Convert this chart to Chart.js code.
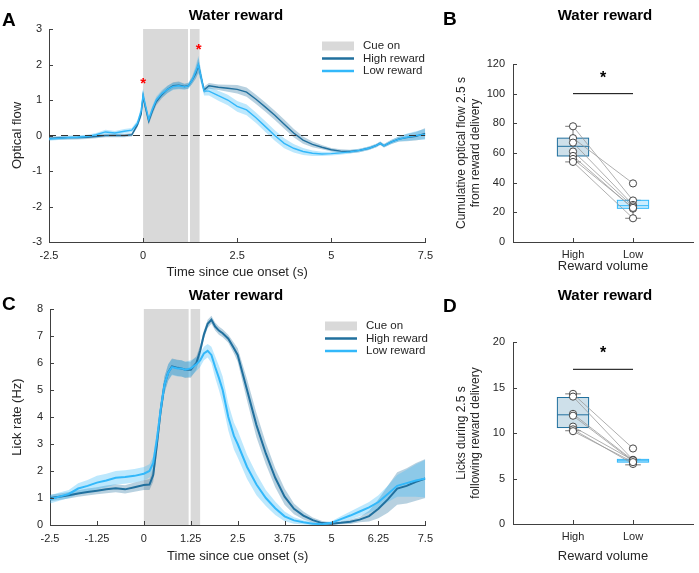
<!DOCTYPE html>
<html>
<head>
<meta charset="utf-8">
<script src="https://cdn.jsdelivr.net/npm/chart.js@4.4.1/dist/chart.umd.min.js"></script>
<style>
  html, body { margin: 0; padding: 0; background: #fff; }
  #wrap { position: relative; width: 699px; height: 573px; overflow: hidden; }
  canvas { position: absolute; }
</style>
</head>
<body>
<div id="wrap">
  <canvas id="chartA" width="440" height="280" style="left:0;top:0"></canvas>
  <canvas id="chartB" width="259" height="280" style="left:440px;top:0"></canvas>
  <canvas id="chartC" width="440" height="293" style="left:0;top:280px"></canvas>
  <canvas id="chartD" width="259" height="293" style="left:440px;top:280px"></canvas>
</div>
<script>
// ---- panel A: optical flow traces (s since cue onset) ----
const timeA = [-2.5, -2.25, -2.0, -1.75, -1.5, -1.25, -1.0, -0.75, -0.5,
  -0.3, -0.15, -0.05, 0.0, 0.05, 0.15, 0.25, 0.35,
  0.5, 0.65, 0.8, 0.95, 1.1, 1.2, 1.3, 1.4, 1.47,
  1.55, 1.62, 1.75, 2.0, 2.25, 2.5, 2.75, 3.0, 3.25, 3.5,
  3.75, 4.0, 4.25, 4.5, 4.75, 5.0, 5.25, 5.5, 5.75, 6.0,
  6.2, 6.3, 6.4, 6.6, 6.8, 7.0, 7.25, 7.5];
const highFlow = [-0.08, -0.07, -0.06, -0.06, -0.05, -0.03, 0.0, 0.0, 0.0,
  0.02, 0.3, 0.6, 1.1, 0.85, 0.4, 0.7, 0.95,
  1.15, 1.3, 1.4, 1.42, 1.38, 1.4, 1.55, 1.75, 1.98,
  1.6, 1.28, 1.4, 1.36, 1.33, 1.3, 1.22, 1.02, 0.8, 0.57,
  0.32, 0.07, -0.13, -0.25, -0.33, -0.4, -0.44, -0.45, -0.42, -0.36,
  -0.28, -0.22, -0.29, -0.18, -0.1, -0.06, -0.02, 0.06];
const highFlowErr = [0.05, 0.05, 0.05, 0.05, 0.05, 0.05, 0.05, 0.05, 0.05,
  0.05, 0.07, 0.1, 0.15, 0.12, 0.1, 0.1, 0.1,
  0.1, 0.1, 0.1, 0.1, 0.08, 0.08, 0.1, 0.15, 0.2,
  0.15, 0.1, 0.08, 0.08, 0.1, 0.12, 0.13, 0.13, 0.13, 0.13,
  0.13, 0.12, 0.1, 0.08, 0.06, 0.05, 0.05, 0.05, 0.05, 0.05,
  0.05, 0.05, 0.05, 0.06, 0.07, 0.1, 0.12, 0.15];
const lowFlow = [-0.1, -0.08, -0.06, -0.05, -0.03, 0.02, 0.1, 0.07, 0.12,
  0.15, 0.35, 0.7, 1.15, 0.9, 0.45, 0.75, 1.0,
  1.18, 1.3, 1.38, 1.4, 1.37, 1.4, 1.55, 1.8, 2.0,
  1.6, 1.25, 1.25, 1.12, 1.0, 0.82, 0.72, 0.5, 0.25, 0.0,
  -0.22, -0.36, -0.45, -0.5, -0.52, -0.51, -0.49, -0.46, -0.42, -0.36,
  -0.28, -0.22, -0.29, -0.18, -0.1, -0.05, 0.0, 0.03];
const lowFlowErr = [0.05, 0.05, 0.05, 0.05, 0.05, 0.05, 0.06, 0.06, 0.06,
  0.06, 0.08, 0.12, 0.18, 0.12, 0.1, 0.1, 0.1,
  0.1, 0.1, 0.1, 0.1, 0.08, 0.08, 0.1, 0.18, 0.25,
  0.18, 0.12, 0.12, 0.14, 0.15, 0.15, 0.15, 0.15, 0.15, 0.15,
  0.14, 0.12, 0.1, 0.08, 0.06, 0.05, 0.05, 0.05, 0.05, 0.05,
  0.05, 0.05, 0.05, 0.06, 0.07, 0.1, 0.12, 0.15];
const starTime = [0, 1.48];
const starValue = [1.55, 2.5];

// ---- panel C: lick rate traces ----
const timeC = [-2.5, -2.25, -2.0, -1.75, -1.5, -1.25, -1.0, -0.75, -0.5, -0.25,
  0.0, 0.15, 0.25, 0.35, 0.45, 0.55, 0.65, 0.75, 0.9, 1.0,
  1.1, 1.25, 1.4, 1.5, 1.6, 1.7, 1.8, 1.9, 2.0, 2.1,
  2.25, 2.4, 2.5, 2.75, 3.0, 3.25, 3.5, 3.75, 4.0, 4.25,
  4.5, 4.75, 5.0, 5.25, 5.5, 5.75, 6.0, 6.25, 6.5, 6.75,
  7.0, 7.25, 7.5];
const highLick = [1.0, 1.05, 1.1, 1.17, 1.22, 1.27, 1.32, 1.36, 1.32, 1.4,
  1.48, 1.5, 1.85, 3.0, 4.25, 5.2, 5.65, 5.87, 5.82, 5.8,
  5.75, 5.75, 6.0, 6.45, 7.05, 7.45, 7.6, 7.35, 7.2, 7.1,
  6.9, 6.55, 6.3, 5.0, 3.7, 2.65, 1.75, 1.05, 0.6, 0.35,
  0.18, 0.07, 0.05, 0.08, 0.12, 0.2, 0.33, 0.6, 0.95, 1.35,
  1.45, 1.6, 1.72];
const highLickErr = [0.12, 0.12, 0.12, 0.12, 0.13, 0.13, 0.14, 0.15, 0.15, 0.17,
  0.18, 0.2, 0.25, 0.3, 0.3, 0.3, 0.3, 0.3, 0.3, 0.3,
  0.3, 0.3, 0.25, 0.2, 0.15, 0.15, 0.15, 0.15, 0.15, 0.15,
  0.15, 0.2, 0.25, 0.4, 0.45, 0.4, 0.35, 0.3, 0.2, 0.15,
  0.1, 0.08, 0.05, 0.05, 0.08, 0.1, 0.2, 0.35, 0.5, 0.6,
  0.65, 0.7, 0.72];
const lowLick = [0.95, 1.05, 1.15, 1.35, 1.45, 1.57, 1.65, 1.75, 1.78, 1.82,
  1.9, 2.0, 2.3, 3.2, 4.3, 5.2, 5.65, 5.85, 5.8, 5.8,
  5.75, 5.8, 5.95, 6.1, 6.35, 6.45, 6.3, 5.85, 5.45, 5.0,
  4.0, 3.3, 3.0, 2.15, 1.5, 1.0, 0.62, 0.32, 0.17, 0.1,
  0.05, 0.03, 0.08, 0.22, 0.35, 0.5, 0.65, 0.85, 1.15, 1.45,
  1.55, 1.65, 1.72];
const lowLickErr = [0.15, 0.15, 0.15, 0.2, 0.22, 0.25, 0.25, 0.25, 0.25, 0.25,
  0.25, 0.25, 0.25, 0.3, 0.3, 0.3, 0.3, 0.3, 0.3, 0.3,
  0.3, 0.3, 0.25, 0.25, 0.25, 0.25, 0.3, 0.4, 0.45, 0.5,
  0.5, 0.5, 0.5, 0.45, 0.4, 0.3, 0.25, 0.18, 0.12, 0.08,
  0.06, 0.05, 0.06, 0.1, 0.15, 0.18, 0.2, 0.25, 0.3, 0.4,
  0.5, 0.6, 0.7];

// cue period: on from 0 to 1.5 s, with a short break near 1.22 s
const cueStart = 0, cueEnd = 1.5, cueGap = 1.22;
const legendLabels = ['Cue on', 'High reward', 'Low reward'];

// ---- panel B: cumulative optical flow per mouse ----
const groupLabels = ['High', 'Low'];
const flowHigh = [78, 70, 67, 61, 58, 56, 54];
const flowLow = [28, 39.5, 25, 24, 22.5, 23, 16];
const flowBoxHigh = [58, 64.5, 70];   // q1, median, q3
const flowWhiskHigh = [54, 78];
const flowBoxLow = [22.7, 24.5, 28.1];
const flowWhiskLow = [16, 28.1];
const flowSig = [100, 112];           // bar, star

// ---- panel D: licks per mouse ----
const lickHigh = [14.3, 14.0, 12.1, 11.9, 10.7, 10.4, 10.2];
const lickLow = [8.3, 7.05, 7.0, 6.9, 7.0, 6.6, 6.8];
const lickBoxHigh = [10.6, 12.0, 13.9];
const lickWhiskHigh = [10.25, 14.3];
const lickBoxLow = [6.8, 6.95, 7.1];
const lickWhiskLow = [6.5, 7.1];
const lickSig = [17, 19.1];

const FONT = "'Liberation Sans', Arial, Helvetica, sans-serif";
const axisColor = '#404040';
const highColor = 'rgb(33,112,158)';
const lowColor = 'rgb(51,184,250)';
const highBand = 'rgba(33,112,158,0.32)';
const lowBand = 'rgba(51,184,250,0.32)';
const cueGray = '#d9d9d9';

Chart.defaults.font.family = FONT;
Chart.defaults.font.size = 11;
Chart.defaults.color = '#262626';
Chart.defaults.animation = false;

const panelText = {
    id: 'panelText',
    afterDraw: function (chart, args, o) {
        const ctx = chart.ctx;
        ctx.save();
        ctx.fillStyle = '#000';
        ctx.textBaseline = 'middle';
        ctx.textAlign = 'center';
        ctx.font = 'bold 15px ' + FONT;
        ctx.fillText('Water reward', o.titleX, o.titleY);
        ctx.textAlign = 'left';
        ctx.font = 'bold 19px ' + FONT;
        ctx.fillText(o.letter, o.letterX, o.letterY);
        ctx.restore();
    }
};

// MATLAB style tick marks pointing into the axes
const innerTicks = {
    id: 'innerTicks',
    afterDraw: function (chart) {
        const ctx = chart.ctx, a = chart.chartArea;
        const x = chart.scales.x, y = chart.scales.y;
        ctx.save();
        ctx.strokeStyle = axisColor;
        ctx.lineWidth = 1;
        ctx.beginPath();
        x.ticks.forEach(function (t) {
            if (t.label === '') return;
            const px = Math.round(x.getPixelForValue(t.value)) + 0.5;
            ctx.moveTo(px, a.bottom);
            ctx.lineTo(px, a.bottom - 4);
        });
        y.ticks.forEach(function (t) {
            const py = Math.round(y.getPixelForValue(t.value)) + 0.5;
            ctx.moveTo(a.left, py);
            ctx.lineTo(a.left + 4, py);
        });
        ctx.stroke();
        ctx.restore();
    }
};

const cueShade = {
    id: 'cueShade',
    beforeDatasetsDraw: function (chart) {
        const ctx = chart.ctx, a = chart.chartArea, x = chart.scales.x;
        const x0 = x.getPixelForValue(cueStart), x1 = x.getPixelForValue(cueEnd);
        const xg = x.getPixelForValue(cueGap);
        ctx.save();
        ctx.fillStyle = cueGray;
        ctx.fillRect(x0, a.top, x1 - x0, a.bottom - a.top);
        ctx.fillStyle = '#fff';
        ctx.fillRect(xg - 1, a.top, 2, a.bottom - a.top);
        ctx.restore();
    }
};

const traceLegend = {
    id: 'traceLegend',
    afterDraw: function (chart, args, o) {
        const ctx = chart.ctx;
        ctx.save();
        ctx.fillStyle = cueGray;
        ctx.fillRect(o.x, o.y - 4.5, 32, 9);
        ctx.lineWidth = 2.5;
        ctx.strokeStyle = highColor;
        ctx.beginPath(); ctx.moveTo(o.x, o.y + 12.5); ctx.lineTo(o.x + 32, o.y + 12.5); ctx.stroke();
        ctx.strokeStyle = lowColor;
        ctx.beginPath(); ctx.moveTo(o.x, o.y + 25); ctx.lineTo(o.x + 32, o.y + 25); ctx.stroke();
        ctx.fillStyle = '#262626';
        ctx.font = '11.5px ' + FONT;
        ctx.textBaseline = 'middle';
        ctx.fillText(legendLabels[0], o.x + 41, o.y);
        ctx.fillText(legendLabels[1], o.x + 41, o.y + 12.5);
        ctx.fillText(legendLabels[2], o.x + 41, o.y + 25);
        ctx.restore();
    }
};

const redStars = {
    id: 'redStars',
    afterDatasetsDraw: function (chart) {
        const ctx = chart.ctx, x = chart.scales.x, y = chart.scales.y;
        ctx.save();
        ctx.fillStyle = '#ff0000';
        ctx.font = 'bold 15px ' + FONT;
        ctx.textAlign = 'center';
        ctx.textBaseline = 'middle';
        starTime.forEach(function (t, i) {
            ctx.fillText('*', x.getPixelForValue(t), y.getPixelForValue(starValue[i]) + 3);
        });
        ctx.restore();
    }
};

const boxPlot = {
    id: 'boxPlot',
    beforeDatasetsDraw: function (chart, args, o) {
        const ctx = chart.ctx, x = chart.scales.x, y = chart.scales.y;
        ctx.save();
        o.boxes.forEach(function (b) {
            const xl = x.getPixelForValue(b.x - 0.26), xr = x.getPixelForValue(b.x + 0.26);
            const cl = x.getPixelForValue(b.x - 0.13), cr = x.getPixelForValue(b.x + 0.13);
            const xc = x.getPixelForValue(b.x);
            const q1 = y.getPixelForValue(b.q[0]), md = y.getPixelForValue(b.q[1]), q3 = y.getPixelForValue(b.q[2]);
            const w0 = y.getPixelForValue(b.w[0]), w1 = y.getPixelForValue(b.w[1]);
            ctx.strokeStyle = '#555';
            ctx.lineWidth = 0.8;
            ctx.beginPath();
            ctx.moveTo(xc, w0); ctx.lineTo(xc, q1);
            ctx.moveTo(xc, q3); ctx.lineTo(xc, w1);
            ctx.moveTo(cl, w0); ctx.lineTo(cr, w0);
            ctx.moveTo(cl, w1); ctx.lineTo(cr, w1);
            ctx.stroke();
            ctx.fillStyle = b.fill;
            ctx.fillRect(xl, q3, xr - xl, q1 - q3);
            ctx.strokeStyle = b.line;
            ctx.lineWidth = 1;
            ctx.strokeRect(xl, q3, xr - xl, q1 - q3);
            ctx.beginPath(); ctx.moveTo(xl, md); ctx.lineTo(xr, md); ctx.stroke();
        });
        ctx.restore();
    },
    afterDraw: function (chart, args, o) {
        const ctx = chart.ctx, x = chart.scales.x, y = chart.scales.y;
        ctx.save();
        ctx.fillStyle = '#000';
        ctx.font = 'bold 16px ' + FONT;
        ctx.textAlign = 'center';
        ctx.textBaseline = 'middle';
        ctx.fillText('*', x.getPixelForValue(1.5), y.getPixelForValue(o.starY) + 3);
        ctx.restore();
    }
};

function bandSets(times, mean, err, line, band, ord, width) {
    return [
        { data: times.map((t, i) => ({ x: t, y: mean[i] })), borderColor: line, borderWidth: width,
          pointRadius: 0, fill: false, order: ord },
        { data: times.map((t, i) => ({ x: t, y: mean[i] + err[i] })), borderWidth: 0, borderColor: 'rgba(0,0,0,0)',
          backgroundColor: band, pointRadius: 0, fill: '+1', order: ord + 2 },
        { data: times.map((t, i) => ({ x: t, y: mean[i] - err[i] })), borderWidth: 0, borderColor: 'rgba(0,0,0,0)',
          pointRadius: 0, fill: false, order: ord + 2 }
    ];
}

function traceChart(id, opts) {
    const datasets = []
        .concat(bandSets(opts.time, opts.high, opts.highErr, highColor, highBand, 1, opts.lw))
        .concat(bandSets(opts.time, opts.low, opts.lowErr, lowColor, lowBand, 0, opts.lw));
    if (opts.zeroLine) {
        datasets.push({ data: [{ x: -2.5, y: 0 }, { x: 7.5, y: 0 }], borderColor: '#333', borderWidth: 1,
            borderDash: [7, 5], pointRadius: 0, fill: false, order: -1 });
    }
    return new Chart(document.getElementById(id), {
        type: 'line',
        data: { datasets: datasets },
        options: {
            responsive: false,
            layout: { padding: { top: 29, right: 13, left: 0, bottom: 0 } },
            plugins: {
                legend: { display: false },
                tooltip: { enabled: false },
                panelText: { letter: opts.letter, letterX: 2, letterY: opts.letterY, titleX: 236, titleY: 16 },
                traceLegend: { x: opts.legX, y: 46 }
            },
            scales: {
                x: {
                    type: 'linear', min: -2.5, max: 7.5,
                    ticks: { stepSize: opts.xStep, padding: 7, maxRotation: 0, autoSkip: false, callback: v => String(v) },
                    grid: { display: false, drawTicks: false },
                    border: { color: axisColor },
                    title: { display: true, text: 'Time since cue onset (s)', font: { size: 13 }, padding: { top: 0, bottom: opts.xTitlePad } },
                    afterFit: s => { s.height = opts.xH; }
                },
                y: {
                    min: opts.yMin, max: opts.yMax,
                    ticks: { stepSize: 1, padding: 7, callback: v => String(v) },
                    grid: { display: false, drawTicks: false },
                    border: { color: axisColor },
                    title: { display: true, text: opts.yTitle, font: { size: 13 }, padding: { top: 10, bottom: 0 } },
                    afterFit: s => { s.width = opts.yW; }
                }
            }
        },
        plugins: opts.plugins
    });
}

function dotChart(id, opts) {
    const datasets = opts.high.map((h, i) => ({
        type: 'line', data: [{ x: 1, y: h }, { x: 2, y: opts.low[i] }],
        borderColor: '#9a9a9a', borderWidth: 0.8, pointRadius: 0, order: 2
    }));
    datasets.push({ type: 'line', data: [{ x: 1, y: opts.sig[0] }, { x: 2, y: opts.sig[0] }],
        borderColor: '#000', borderWidth: 1, pointRadius: 0, order: 1 });
    datasets.push({
        data: opts.high.map(v => ({ x: 1, y: v })).concat(opts.low.map(v => ({ x: 2, y: v }))),
        pointRadius: 3.6, pointBackgroundColor: '#fff', pointBorderColor: '#333', pointBorderWidth: 0.9, order: 0
    });
    return new Chart(document.getElementById(id), {
        type: 'scatter',
        data: { datasets: datasets },
        options: {
            responsive: false,
            layout: { padding: { top: opts.top, right: 2, left: 0, bottom: 0 } },
            plugins: {
                legend: { display: false },
                tooltip: { enabled: false },
                panelText: { letter: opts.letter, letterX: 3, letterY: opts.letterY, titleX: 165, titleY: 16 },
                boxPlot: {
                    starY: opts.sig[1],
                    boxes: [
                        { x: 1, q: opts.boxHigh, w: opts.whiskHigh, fill: 'rgba(33,112,158,0.22)', line: highColor },
                        { x: 2, q: opts.boxLow, w: opts.whiskLow, fill: 'rgba(51,184,250,0.25)', line: lowColor }
                    ]
                }
            },
            scales: {
                x: {
                    type: 'linear', min: 0, max: 3,
                    ticks: { stepSize: 1, padding: 6, maxRotation: 0, autoSkip: false,
                             callback: v => (v === 1 || v === 2) ? groupLabels[v - 1] : '' },
                    grid: { display: false, drawTicks: false },
                    border: { color: axisColor },
                    title: { display: true, text: 'Reward volume', font: { size: 13 }, padding: { top: 0, bottom: opts.xTitlePad } },
                    afterFit: s => { s.height = opts.xH; }
                },
                y: {
                    min: 0, max: opts.yMax,
                    ticks: { stepSize: opts.yStep, padding: 8, callback: v => String(v) },
                    grid: { display: false, drawTicks: false },
                    border: { color: axisColor },
                    title: { display: true, text: opts.yTitle, font: { size: 12 }, padding: { top: 14, bottom: 0 } },
                    afterFit: s => { s.width = 73; }
                }
            }
        },
        plugins: [boxPlot, innerTicks, panelText]
    });
}

traceChart('chartA', {
    time: timeA, high: highFlow, highErr: highFlowErr, low: lowFlow, lowErr: lowFlowErr,
    lw: 1.4, zeroLine: true, letter: 'A', letterY: 21, legX: 322,
    xStep: 2.5, xTitlePad: 0, xH: 38, yMin: -3, yMax: 3, yW: 49, yTitle: 'Optical flow',
    plugins: [cueShade, redStars, innerTicks, traceLegend, panelText]
});

traceChart('chartC', {
    time: timeC, high: highLick, highErr: highLickErr, low: lowLick, lowErr: lowLickErr,
    lw: 2, zeroLine: false, letter: 'C', letterY: 25, legX: 325,
    xStep: 1.25, xTitlePad: 9, xH: 48, yMin: 0, yMax: 8, yW: 50, yTitle: 'Lick rate (Hz)',
    plugins: [cueShade, innerTicks, traceLegend, panelText]
});

dotChart('chartB', {
    high: flowHigh, low: flowLow, boxHigh: flowBoxHigh, whiskHigh: flowWhiskHigh,
    boxLow: flowBoxLow, whiskLow: flowWhiskLow, sig: flowSig,
    top: 64, xH: 38, xTitlePad: 6, yMax: 120, yStep: 20, letter: 'B', letterY: 20,
    yTitle: ['Cumulative optical flow 2.5 s', 'from reward delivery']
});

dotChart('chartD', {
    high: lickHigh, low: lickLow, boxHigh: lickBoxHigh, whiskHigh: lickWhiskHigh,
    boxLow: lickBoxLow, whiskLow: lickWhiskLow, sig: lickSig,
    top: 62, xH: 49, xTitlePad: 9, yMax: 20, yStep: 5, letter: 'D', letterY: 27,
    yTitle: ['Licks during 2.5 s', 'following reward delivery']
});
</script>
</body>
</html>
